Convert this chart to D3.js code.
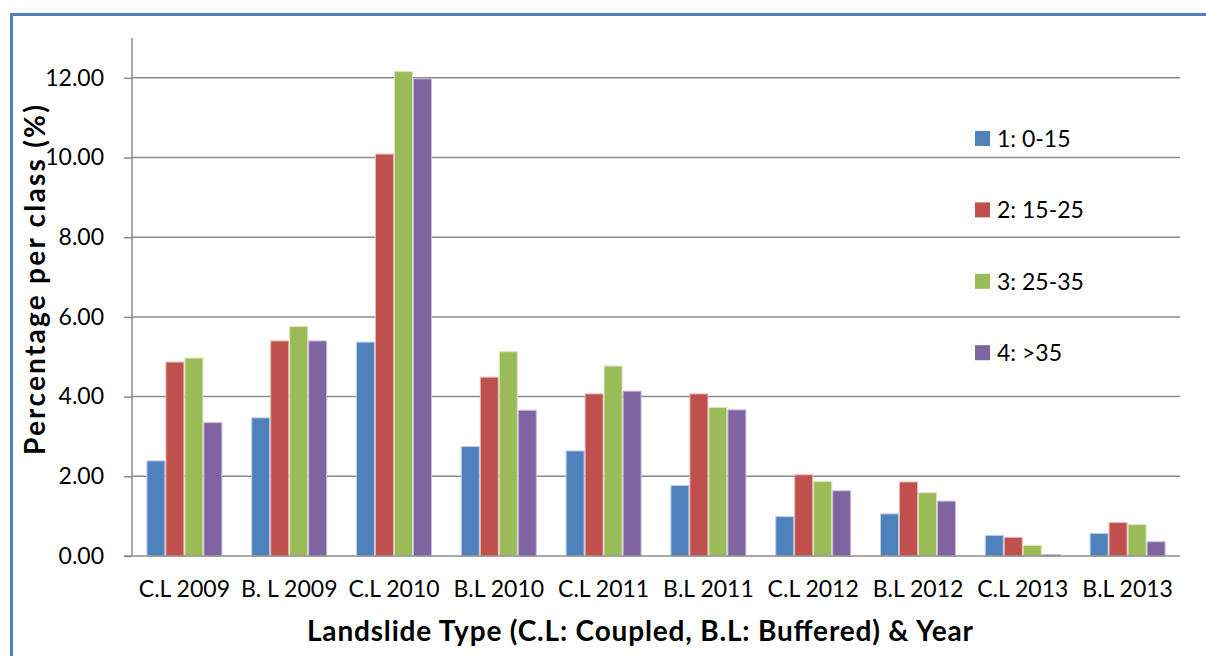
<!DOCTYPE html>
<html><head><meta charset="utf-8">
<script src="https://cdn.jsdelivr.net/npm/d3@7"></script>
<style>body{margin:0;background:#fff}svg{display:block}</style>
</head><body>
<svg id="c" width="1206" height="656"></svg>
<script>
const categories = ["C.L 2009","B. L 2009","C.L 2010","B.L 2010","C.L 2011","B.L 2011","C.L 2012","B.L 2012","C.L 2013","B.L 2013"];
const seriesNames = ["1: 0-15","2: 15-25","3: 25-35","4: >35"];
const s1 = [2.40,3.48,5.38,2.76,2.65,1.78,1.00,1.07,0.53,0.58];
const s2 = [4.88,5.41,10.10,4.50,4.08,4.08,2.05,1.87,0.48,0.85];
const s3 = [4.98,5.77,12.17,5.14,4.78,3.74,1.88,1.60,0.28,0.80];
const s4 = [3.36,5.41,11.99,3.67,4.15,3.68,1.65,1.39,0.05,0.37];
const yTicks = [0,2,4,6,8,10,12];
const colors = ["#4F81BD","#C0504D","#9BBB59","#8064A2"];
const strokes = ["#BBD0EA","#E8B7B6","#D7E6BE","#C9BCDB"];
const series = [s1,s2,s3,s4];

const svg = d3.select("#c");
const font = "Lato, 'Open Sans', sans-serif";
// outer border
svg.append("path").attr("d","M11.5,700 L11.5,14.5 L1220,14.5")
  .attr("fill","none").attr("stroke","#4F81BD").attr("stroke-width",3);

const x0 = 132, x1 = 1180, yb = 556, yt = 38;
const x = d3.scaleBand().domain(categories).range([x0,x1]).paddingInner(0.275).paddingOuter(0.1375);
const xs = d3.scaleBand().domain(d3.range(4)).range([0,x.bandwidth()]);
const y = d3.scaleLinear().domain([0,13]).range([yb,yt]);

// gridlines
svg.append("g").selectAll("line").data(yTicks.filter(d=>d>0)).join("line")
  .attr("x1",x0).attr("x2",x1).attr("y1",d=>y(d)).attr("y2",d=>y(d))
  .attr("stroke","#8C8C8C").attr("stroke-width",1.5);

// bars
const g = svg.append("g");
series.forEach((s,i)=>{
  g.append("g").selectAll("rect").data(s).join("rect")
    .attr("x",(d,j)=>x(categories[j])+xs(i)+0.5)
    .attr("width",xs.bandwidth()-1)
    .attr("y",d=>y(d)+0.5)
    .attr("height",d=>Math.max(0,yb-y(d)-0.5))
    .attr("fill",colors[i]).attr("stroke",strokes[i]).attr("stroke-width",1);
});

// y axis
const ya = svg.append("g").attr("transform",`translate(${x0},0)`)
  .call(d3.axisLeft(y).tickValues(yTicks).tickSize(8).tickPadding(20).tickFormat(d3.format(".2f")));
ya.select(".domain").attr("d",`M0,${yt}V${yb}`).attr("stroke","#8C8C8C").attr("stroke-width",1.5);
ya.selectAll(".tick line").attr("stroke","#8C8C8C").attr("stroke-width",1.5);
ya.selectAll("text").attr("font-family",font).attr("font-size",23).attr("fill","#000");

// x axis
const xa = svg.append("g").attr("transform",`translate(0,${yb})`)
  .call(d3.axisBottom(x).tickSize(0).tickPadding(25));
xa.select(".domain").attr("d",`M${x0-8},0H${x1}`).attr("stroke","#8C8C8C").attr("stroke-width",1.5);
xa.selectAll("text").attr("font-family",font).attr("font-size",23).attr("fill","#000");

// titles
svg.append("text").attr("x",640).attr("y",641).attr("text-anchor","middle")
  .attr("font-family",font).attr("font-weight","bold").attr("font-size",28)
  .attr("textLength",666).attr("lengthAdjust","spacing")
  .text("Landslide Type (C.L: Coupled, B.L: Buffered) & Year");
svg.append("text").attr("transform","translate(45,280) rotate(-90)").attr("text-anchor","middle")
  .attr("font-family",font).attr("font-weight","bold").attr("font-size",28)
  .attr("textLength",350).attr("lengthAdjust","spacing")
  .text("Percentage per class (%)");

// legend
const lg = svg.append("g").selectAll("g").data(seriesNames).join("g")
  .attr("transform",(d,i)=>`translate(975,${139 + i*71.4})`);
lg.append("rect").attr("x",0).attr("y",-8).attr("width",15).attr("height",15).attr("fill",(d,i)=>colors[i]);
lg.append("text").attr("x",22).attr("y",0).attr("dy","0.35em")
  .attr("font-family",font).attr("font-size",23).text(d=>d);
</script>
</body></html>
